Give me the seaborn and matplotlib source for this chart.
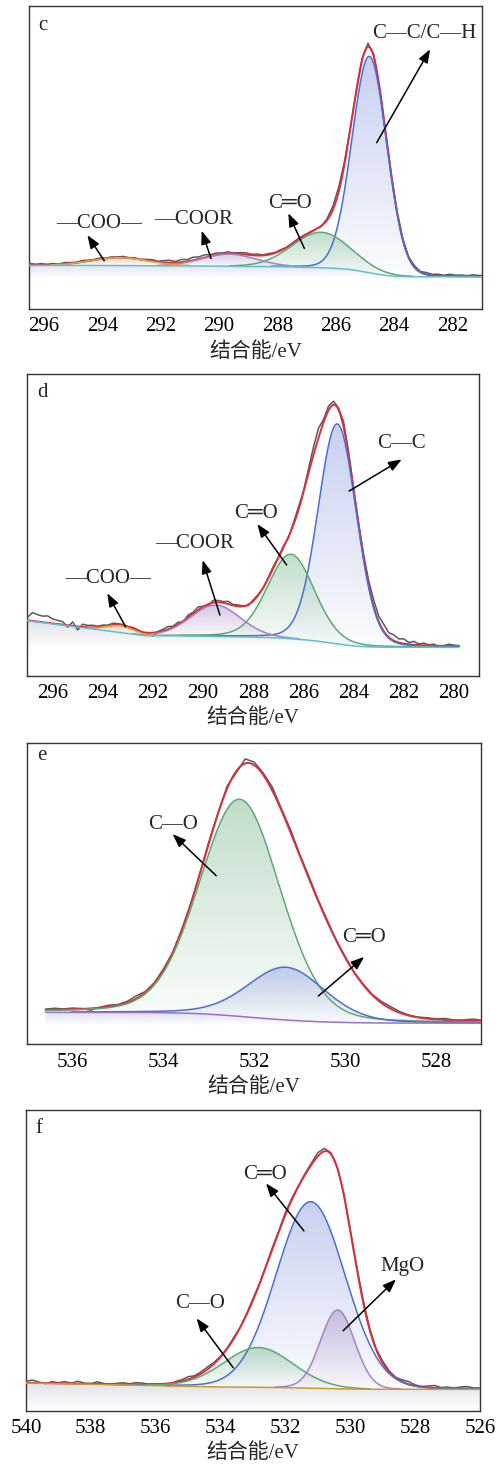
import math
import numpy as np
import matplotlib
matplotlib.use("Agg")
import matplotlib.pyplot as plt
from matplotlib.colors import to_rgb
from matplotlib.patches import Polygon
import seaborn as sns

sns.set_style("white")
plt.rcParams["font.family"] = ["Liberation Serif", "Noto Sans CJK SC", "DejaVu Sans"]

# ---------------- data ----------------
# panel c : C1s
c_centers = [284.85, 286.5, 289.65, 293.4]
c_heights = [71.4, 11.7, 4.0, 2.6]
c_fwhm = [1.41, 2.35, 2.2, 2.3]
c_eta = [0.05, 0.05, 0.05, 0.05]
c_background = [10.6, 14.4, 0.0, 296.5]          # low, high, tilt, knee
c_labels = ["C—C/C—H", "C═O", "—COOR", "—COO—"]
c_resid = [0.6, 0.3, 0.5, 0.2, 0.4, 0.1, 0.5, 0.3, 0.2, 0.5, 0.3, 0.2, 0.4, 0.1, 0.3, 0.2,
           0.4, 0.1, 0.3, 0.0, 0.3, 0.5, 0.2, 0.6, 0.8, 0.4, 0.9, 0.6, 1.0, 0.7, 0.9, 0.5,
           0.6, 0.3, 0.5, 0.2, 0.4, 0.6, 0.3, 0.5, 0.2, 0.4, 0.1, 0.3, 0.0, 0.2, 0.4, 0.3,
           0.2, 0.1, -0.2, 0.5, 1.2, 1.5, 1.0, 0.3, -0.5, 0.4, 1.2, 0.8, -0.5, -0.3, 0.2, 0.4,
           0.3, 0.1, 0.5, 0.2, 0.6, 0.3, 0.5, 0.2, 0.6, 0.3, 0.4, 0.2, 0.5, 0.3, 0.4]

# panel d : C1s
d_centers = [284.65, 286.5, 289.5, 293.3]
d_heights = [72.9, 28.0, 10.4, 2.2]
d_fwhm = [1.8, 2.2, 2.35, 1.3]
d_eta = [0.1, 0.15, 0.1, 0.05]
d_extra_centers = [285.7]
d_extra_heights = [10.5]
d_extra_fwhm = [1.1]
d_background = [9.4, 13.3, 1.05, 292.3]
d_labels = ["C—C", "C═O", "—COOR", "—COO—"]
d_resid = [1.0, 2.8, 2.3, 2.0, 2.3, 1.5, 1.2, 1.0, -0.6, 1.3, -1.2, 0.9, 0.6, 0.7, 0.3, 0.5,
           0.2, 0.6, 0.4, 0.3, 0.1, 0.4, 0.2, -0.2, 0.0, -1.2, 0.2, 0.5, 0.9, 0.3, 0.7, -0.4,
           0.8, 0.5, 1.0, 0.2, -0.6, 0.8, 0.6, 0.4, 0.9, 0.3, 0.5, 0.1, -0.3, 0.4, 0.2, -0.2,
           0.3, 0.6, 0.2, 0.5, -0.4, 0.6, 1.0, 0.4, 1.5, 2.6, 3.2, 1.0, 1.4, 1.2, 0.6, 1.8,
           0.9, 0.2, 0.5, 1.1, 1.6, 2.2, 1.8, 2.3, 1.5, 1.9, 1.2, 1.6, 0.6, 1.1, 0.4, 0.7,
           0.2, 0.5, -0.4, 0.1, 0.6, 0.3, 0.2]

# panel e : O1s
e_centers = [532.32, 531.30]
e_heights = [72.0, 17.5]
e_fwhm = [2.1, 2.0]
e_eta = [0.15, 0.2]
e_extra_centers = [530.6]
e_extra_heights = [15.5]
e_extra_fwhm = [2.0]
e_background = [7.0, 10.6, 0.0, 537.0]
e_labels = ["C—O", "C═O"]
e_resid = [0.3, 0.5, 0.2, 0.4, 0.1, -0.6, 0.2, 0.5, 0.2, 0.4, 0.9, 0.3, 0.2, 0.5, 0.1, 0.4,
           0.2, 0.3, 0.6, 0.2, 0.8, -0.5, 1.5, 1.0, 0.6, 1.2, 0.5, 0.9, 0.4, 0.7, 0.3, 0.5,
           0.2, 0.3, 0.1, 0.3, 0.2, 0.5, 0.7, 0.4, 0.2, 0.1, 0.3, 0.2, 0.5, 0.1, 0.2, 0.6, 0.3]

# panel f : O1s
f_centers = [531.22, 532.84, 530.39]
f_heights = [62.0, 13.2, 26.2]
f_fwhm = [2.52, 2.53, 1.24]
f_eta = [0.05, 0.05, 0.05]
f_background = [7.1, 7.9, 0.22, 534.0]
f_labels = ["C═O", "C—O", "MgO"]
f_resid = [0.5, 0.9, 0.3, -0.2, 0.5, 0.2, 0.6, 0.1, 0.8, 0.2, 0.1, 0.7, 0.2, 0.0, 0.3, 0.5,
           0.2, 0.6, 0.4, 0.1, 0.2, -0.4, -0.9, 0.3, 0.5, 0.9, 0.4, 0.6, 0.8, 0.5, 0.3, 0.2,
           0.4, 0.1, 0.3, 0.5, 0.2, 0.4, 0.6, 0.3, 0.8, 0.5, 0.2, 0.4, 0.6, 1.2, 1.0, 0.4,
           0.2, 0.5, 0.3, 0.6, 0.9, 0.5, 0.3, 0.7, 0.4, 0.2, 0.6, 0.9, 0.3, 0.1, 0.5, 0.8,
           0.2, 0.4, 0.1, 0.5, 0.7, 0.2, 0.3]

# ---------------- styles / layout ----------------
RED = "#dc2d3c"
BLUE = "#4a6fcf"
GREEN = "#5fa873"
PURPLE = "#a383c4"
ORANGE = "#e3a43a"
CYAN = "#5fbfd2"
GOLD = "#c99a2e"
EPURPLE = "#9a72bf"
GRAY = "#5a5a5a"
FILL = {BLUE: "#8fa0e0", GREEN: "#82bb94", PURPLE: "#ab8dc4", ORANGE: "#d9a494"}

W, H = 497, 1465


def rect(l, r, t, b):
    return [l / W, (H - b) / H, (r - l) / W, (b - t) / H]


panels = [
    dict(letter="c", letter_pos=(0.031, 0.934), rect=rect(29, 482, 6, 309),
         xlim=(296.52, 280.99), ticks=list(range(296, 281, -2)),
         centers=c_centers, heights=c_heights, fwhm=c_fwhm, eta=c_eta,
         extra=([], [], []), bg=c_background, resid=c_resid, e0=296.5,
         colors=[BLUE, GREEN, PURPLE, ORANGE], base_color=CYAN,
         base_fill="#d8dcef", floor=10.2, labels=c_labels,
         text_xy=[(282.98, 91.0), (287.57, 34.7), (290.89, 29.4), (294.12, 28.3)],
         tail_xy=[(284.60, 54.9), (287.08, 20.0), (290.28, 16.7), (293.94, 15.9)],
         head_xy=[(282.77, 85.7), (287.63, 31.6), (290.60, 25.8), (294.52, 24.4)]),
    dict(letter="d", letter_pos=(0.033, 0.938), rect=rect(27.3, 479, 374, 675.7),
         xlim=(297.01, 279.0), ticks=list(range(296, 279, -2)),
         centers=d_centers, heights=d_heights, fwhm=d_fwhm, eta=d_eta,
         extra=(d_extra_centers, d_extra_heights, d_extra_fwhm), bg=d_background,
         resid=d_resid, e0=297.0,
         colors=[BLUE, GREEN, PURPLE, ORANGE], base_color=CYAN,
         base_fill="#dadbe3", floor=9.0, labels=d_labels,
         text_xy=[(282.08, 77.0), (287.89, 53.8), (290.35, 43.7), (293.78, 32.1)],
         tail_xy=[(284.18, 61.2), (286.67, 36.7), (289.33, 20.1), (293.09, 16.2)],
         head_xy=[(282.08, 71.7), (287.84, 50.3), (290.02, 38.3), (293.82, 27.3)]),
    dict(letter="e", letter_pos=(0.032, 0.956), rect=rect(27.3, 481.3, 742.7, 1044.3),
         xlim=(537.0, 527.0), ticks=list(range(536, 527, -2)),
         centers=e_centers, heights=e_heights, fwhm=e_fwhm, eta=e_eta,
         extra=(e_extra_centers, e_extra_heights, e_extra_fwhm), bg=e_background,
         resid=e_resid, e0=536.6,
         colors=[GREEN, BLUE], base_color=EPURPLE,
         base_fill="#d3d7f0", floor=6.4, labels=e_labels,
         text_xy=[(533.80, 73.0), (529.58, 35.5)],
         tail_xy=[(532.84, 55.9), (530.59, 16.0)],
         head_xy=[(533.80, 69.7), (529.58, 29.0)]),
    dict(letter="f", letter_pos=(0.029, 0.939), rect=rect(26, 480, 1110, 1410.7),
         xlim=(540.0, 526.0), ticks=list(range(540, 525, -2)),
         centers=f_centers, heights=f_heights, fwhm=f_fwhm, eta=f_eta,
         extra=([], [], []), bg=f_background, resid=f_resid, e0=540.0,
         colors=[BLUE, GREEN, PURPLE], base_color=GOLD,
         base_fill="#d9d9df", floor=0.0, labels=f_labels,
         text_xy=[(532.63, 78.4), (534.63, 35.7), (528.38, 47.9)],
         tail_xy=[(531.43, 59.8), (533.61, 14.3), (530.22, 26.6)],
         head_xy=[(532.60, 75.6), (534.74, 30.7), (528.59, 43.7)]),
]

STEP = 0.2
erf = np.vectorize(math.erf)


def pv(E, c, h, w, eta):
    x = E - c
    return h * ((1 - eta) * np.exp(-4 * np.log(2) * x ** 2 / w ** 2) + eta / (1 + 4 * x ** 2 / w ** 2))


def pv_cum(E, c, h, w, eta):
    x = np.asarray(E, dtype=float) - c
    s = w / (2 * np.sqrt(2 * np.log(2)))
    g = s * np.sqrt(2 * np.pi) * 0.5 * (1 + erf(x / (s * np.sqrt(2))))
    gam = w / 2
    lor = gam * (np.arctan(x / gam) + np.pi / 2)
    return h * ((1 - eta) * g + eta * lor)


def model(E, p, e_hi, e_lo):
    peaks = [(c, h, w, et) for c, h, w, et in zip(p["centers"], p["heights"], p["fwhm"], p["eta"])]
    xc, xh, xw = p["extra"]
    extras = [(c, h, w, 0.1) for c, h, w in zip(xc, xh, xw)]
    allp = peaks + extras
    cum = sum(pv_cum(E, *q) for q in allp)
    cmin = sum(pv_cum(np.array([e_lo]), *q) for q in allp)
    cmax = sum(pv_cum(np.array([e_hi]), *q) for q in allp)
    lo, hi, tilt, knee = p["bg"]
    base = lo + (hi - lo) * (cum - cmin) / (cmax - cmin) + tilt * np.maximum(E - knee, 0)
    comps = [pv(E, *q) for q in peaks]
    env = base + sum(pv(E, *q) for q in allp)
    return base, comps, env


def gradient_fill(ax, x, ybot, ytop, color, a_top, a_bot, z):
    verts = np.concatenate([np.column_stack([x, ytop]), np.column_stack([x[::-1], ybot[::-1]])])
    patch = Polygon(verts, closed=True, facecolor="none", edgecolor="none")
    ax.add_patch(patch)
    y0, y1 = float(np.min(ybot)), float(np.max(ytop))
    n = 256
    img = np.zeros((n, 2, 4))
    img[..., :3] = to_rgb(color)
    img[..., 3] = np.linspace(a_bot, a_top, n)[:, None]
    im = ax.imshow(img, extent=[x.min(), x.max(), y0, y1], origin="lower",
                   aspect="auto", zorder=z, interpolation="bilinear")
    im.set_clip_path(patch)


fig = plt.figure(figsize=(W / 100, H / 100), dpi=100)
fig.patch.set_facecolor("white")

for p in panels:
    ax = fig.add_axes(p["rect"])
    n_raw = len(p["resid"])
    e_hi = p["e0"]
    e_lo = p["e0"] - STEP * (n_raw - 1)
    E = np.linspace(e_hi, e_lo, 2000)
    base, comps, env = model(E, p, e_hi, e_lo)
    Er = e_hi - STEP * np.arange(n_raw)
    _, _, env_r = model(Er, p, e_hi, e_lo)
    raw = env_r + np.array(p["resid"])

    # fill under background
    gradient_fill(ax, E, np.full_like(E, p["floor"]), base, p["base_fill"], 0.75, 0.0, 1)
    # component fills
    for comp, col in zip(comps, p["colors"]):
        m = comp > 0.15
        gradient_fill(ax, E[m], base[m], base[m] + comp[m], FILL[col], 0.5, 0.03, 2)

    sns.lineplot(x=Er, y=raw, ax=ax, color=GRAY, linewidth=1.1, zorder=3)
    sns.lineplot(x=E, y=env, ax=ax, color=RED, linewidth=1.4, zorder=4)
    for comp, col in zip(comps, p["colors"]):
        m = comp > 0.15
        sns.lineplot(x=E[m], y=base[m] + comp[m], ax=ax, color=col, linewidth=1.1, zorder=5)
    sns.lineplot(x=E, y=base, ax=ax, color=p["base_color"], linewidth=1.1, zorder=6)

    for lab, t, tl, hd in zip(p["labels"], p["text_xy"], p["tail_xy"], p["head_xy"]):
        ax.text(t[0], t[1], lab, ha="center", va="center", fontsize=15, zorder=8)
        ax.annotate("", xy=hd, xytext=tl,
                    arrowprops=dict(arrowstyle="-|>,head_length=0.8,head_width=0.3",
                                    color="black", lw=1.1, shrinkA=0, shrinkB=0),
                    zorder=8)

    ax.text(p["letter_pos"][0], p["letter_pos"][1], p["letter"], transform=ax.transAxes,
            ha="center", va="center", fontsize=15)

    ax.set_xlim(*p["xlim"])
    ax.set_ylim(0, 100)
    ax.set_xticks(p["ticks"])
    ax.set_xticklabels([str(t) for t in p["ticks"]])
    ax.set_yticks([])
    ax.tick_params(axis="x", direction="in", length=6, width=1, pad=6, labelsize=15,
                   colors="#222222", labelcolor="black")
    ax.set_xlabel("结合能/eV", fontsize=15, labelpad=4)
    ax.set_ylabel("")
    for sp in ax.spines.values():
        sp.set_color("#333333")
        sp.set_linewidth(1.0)
    if ax.get_legend() is not None:
        ax.get_legend().remove()

fig.savefig("out.png", dpi=100, facecolor="white")
